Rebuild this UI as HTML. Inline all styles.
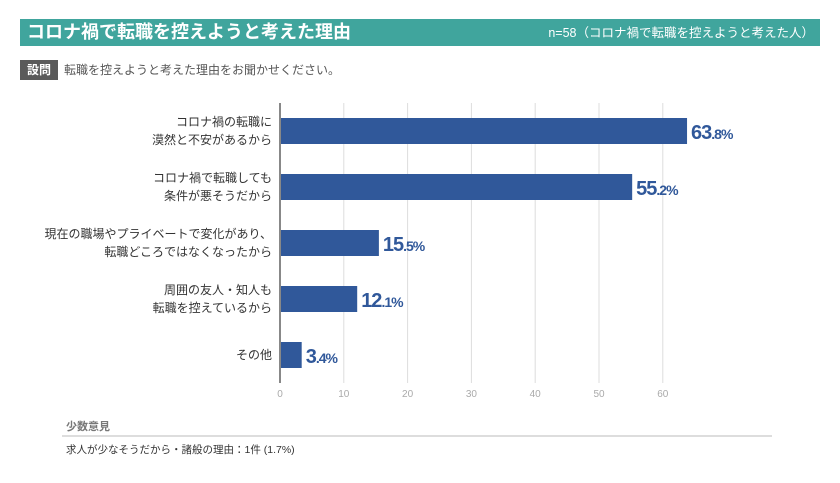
<!DOCTYPE html>
<html><head><meta charset="utf-8"><style>
body{margin:0;width:840px;height:483px;background:#fff;font-family:"Liberation Sans","Noto Sans CJK JP",sans-serif;position:relative;overflow:hidden}
.abs{position:absolute}
</style></head><body>
<div class="abs" style="left:20px;top:19px;width:800px;height:27px;background:#40a59d"></div>
<div class="abs" style="left:27px;top:20px;color:#fff;font-size:18px;font-weight:bold;line-height:25px">コロナ禍で転職を控えようと考えた理由</div>
<div class="abs" style="right:26px;top:24px;color:#fff;font-size:12.5px;line-height:18px">n=58（コロナ禍で転職を控えようと考えた人）</div>
<div class="abs" style="left:20px;top:60px;width:38px;height:20px;background:#5a5a5a;color:#fff;font-size:12px;font-weight:bold;line-height:20px;text-align:center">設問</div>
<div class="abs" style="left:64px;top:61px;color:#555;font-size:12px;line-height:18px">転職を控えようと考えた理由をお聞かせください。</div>
<svg class="abs" style="left:0;top:0" width="840" height="483"></svg>
<div class="abs" style="left:66px;top:418px;color:#777;font-size:11px;font-weight:bold">少数意見</div>
<div class="abs" style="left:62px;top:435px;width:710px;height:2px;background:#ddd"></div>
<div class="abs" style="left:66px;top:442px;color:#333;font-size:10.5px">求人が少なそうだから・諸般の理由：1件 (1.7%)</div>
<script>
const categories=[["コロナ禍の転職に","漠然と不安があるから"],["コロナ禍で転職しても","条件が悪そうだから"],["現在の職場やプライベートで変化があり、","転職どころではなくなったから"],["周囲の友人・知人も","転職を控えているから"],["その他"]];
const values=[63.8,55.2,15.5,12.1,3.4];
const ticks=[0,10,20,30,40,50,60];
const svg=document.querySelector('svg');const NS='http://www.w3.org/2000/svg';
const x0=280,ppu=6.38,y0=131,step=56,bh=26;
const X=v=>x0+v*ppu, Y=i=>y0+i*step;
function mk(t,a,txt){const e=document.createElementNS(NS,t);for(const k in a)e.setAttribute(k,a[k]);if(txt!=null)e.textContent=txt;svg.appendChild(e);return e;}
ticks.forEach(t=>{
 const g=mk('line',{x1:X(t),x2:X(t),y1:103,y2:383,stroke:t===0?'#888':'#ddd','stroke-width':t===0?2:1});
 
 
 const l=mk('text',{x:X(t),y:397,'text-anchor':'middle','font-size':10,fill:'#aaa'},t);
 
 
});
values.forEach((v,i)=>{
 const r=mk('rect',{x:x0+1,y:Y(i)-bh/2,width:X(v)-x0-1,height:bh,fill:'#30589a'});
 
 
 const s=String(v).split('.');
 const t=mk('text',{x:X(v)+4,y:Y(i)+8,fill:'#30589a','font-weight':'bold','font-size':20,'letter-spacing':-1});
 
 
 const a=document.createElementNS(NS,'tspan');a.textContent=s[0];t.appendChild(a);
 const b=document.createElementNS(NS,'tspan');b.setAttribute('font-size',14);b.textContent='.'+s[1]+'%';t.appendChild(b);
 const lines=categories[i];
 lines.forEach((ln,j)=>{
  const c=mk('text',{x:272,y:Y(i)+4+(j-(lines.length-1)/2)*18,'text-anchor':'end','font-size':12,fill:'#333'},ln);
  
  
 });
});
</script>
</body></html>
